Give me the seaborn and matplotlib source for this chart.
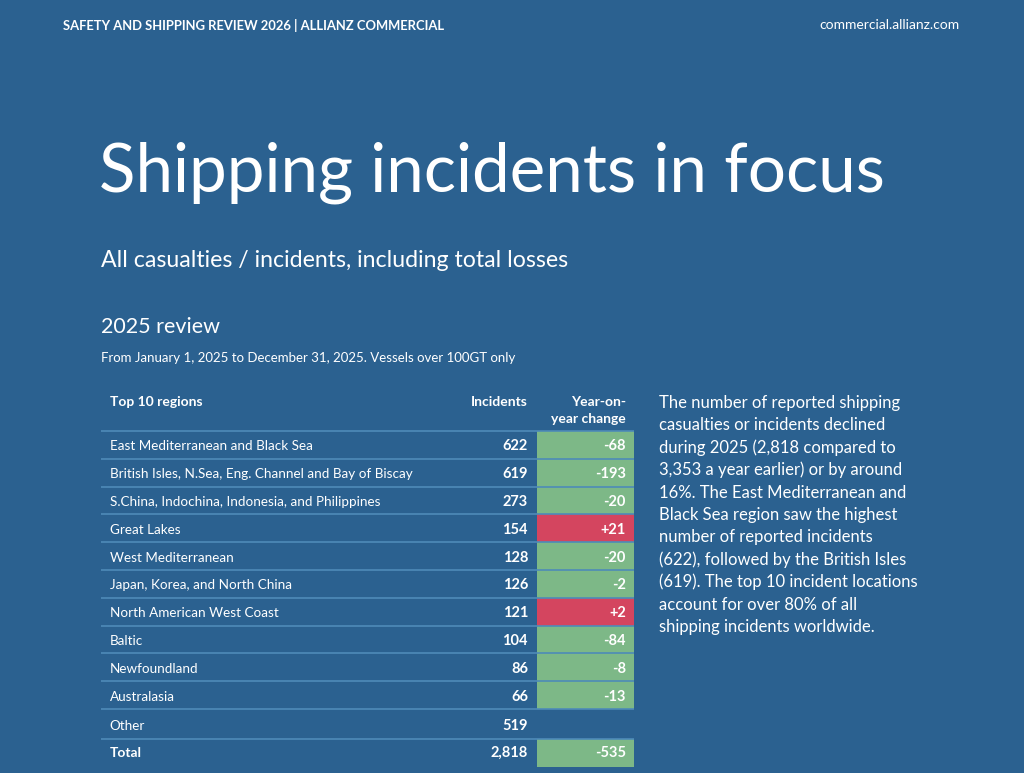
import seaborn as sns
import numpy as np
from matplotlib import pyplot as plt

# data
regions = ["East Mediterranean and Black Sea",
           "British Isles, N.Sea, Eng. Channel and Bay of Biscay",
           "S.China, Indochina, Indonesia, and Philippines",
           "Great Lakes", "West Mediterranean", "Japan, Korea, and North China",
           "North American West Coast", "Baltic", "Newfoundland", "Australasia"]
incidents = [622, 619, 273, 154, 128, 126, 121, 104, 86, 66]
yoy_change = [-68, -193, -20, 21, -20, -2, 2, -84, -8, -13]
other_incidents = 519
total_incidents = 2818
total_change = -535

paragraph = ["The number of reported shipping",
             "casualties or incidents declined",
             "during 2025 (2,818 compared to",
             "3,353 a year earlier) or by around",
             "16%. The East Mediterranean and",
             "Black Sea region saw the highest",
             "number of reported incidents",
             "(622), followed by the British Isles",
             "(619). The top 10 incident locations",
             "account for over 80% of all",
             "shipping incidents worldwide."]

BG = "#2B6190"
GREEN = "#7DB887"
RED = "#D4455F"
LINE = "#4E8BB8"

sns.set_style("white")
plt.rcParams["font.family"] = ["Lato", "DejaVu Sans"]

fig = plt.figure(figsize=(10.24, 7.73), dpi=100, facecolor=BG)
ax = fig.add_axes([0, 0, 1, 1], facecolor=BG)
ax.set_xlim(0, 1024)
ax.set_ylim(773, 0)
ax.axis("off")

# top strip
ax.text(63, 25, "SAFETY AND SHIPPING REVIEW 2026 | ALLIANZ COMMERCIAL", color="white",
        fontsize=9.4, fontweight="bold", va="center", ha="left")
ax.text(960, 25, "commercial.allianz.com", color="white", fontsize=10, va="center", ha="right")

ax.text(99, 192, "Shipping incidents in focus", color="white", fontsize=48.5, va="baseline")
ax.text(101, 267, "All casualties / incidents, including total losses", color="white",
        fontsize=16.7, va="baseline")
ax.text(101, 333, "2025 review", color="white", fontsize=15.5, va="baseline")
ax.text(101, 362, "From January 1, 2025 to December 31, 2025. Vessels over 100GT only",
        color="white", fontsize=9.5, va="baseline")

# table
x_left, x_inc, x_cell, x_right = 101, 528, 537, 634
top = 431
row_h = 27.8
n = len(regions)
centers = top + row_h * (np.arange(n) + 0.5)
txt_dy = 1.5
hdr = dict(color="white", fontsize=10, fontweight="bold", va="baseline")
num = dict(color="white", fontsize=10.5, fontweight="bold", va="center", ha="right")

ax.text(110, 406, "Top 10 regions", **hdr)
ax.text(x_inc, 406, "Incidents", ha="right", **hdr)
ax.text(626, 406, "Year-on-", ha="right", **hdr)
ax.text(626, 423, "year change", ha="right", **hdr)

colors = [GREEN if v < 0 else RED for v in yoy_change]
ax.barh(centers, width=x_right - x_cell, left=x_cell, height=row_h, color=colors, linewidth=0)

other_c = top + row_h * n + 16.5
total_c = other_c + 27.5
ax.barh([total_c], width=x_right - x_cell, left=x_cell, height=28,
        color=GREEN if total_change < 0 else RED, linewidth=0)

for c, name, inc, ch in zip(centers, regions, incidents, yoy_change):
    ax.text(110, c + txt_dy, name, color="white", fontsize=9.7, va="center")
    ax.text(x_inc, c + txt_dy, f"{inc:,}", **num)
    ax.text(626, c + txt_dy, f"{ch:+d}", **num)

ax.text(109, other_c, "Other", color="white", fontsize=9.7, va="center")
ax.text(x_inc, other_c, f"{other_incidents:,}", **num)
ax.text(110, total_c, "Total", color="white", fontsize=10, fontweight="bold", va="center")
ax.text(x_inc, total_c, f"{total_incidents:,}", **num)
ax.text(626, total_c, f"{total_change:+d}", **num)

lines_y = list(top + row_h * np.arange(n + 1)) + [other_c + 13.5]
ax.hlines(lines_y, x_left, x_right, color=LINE, linewidth=1.2)

# right paragraph
for i, line in enumerate(paragraph):
    ax.text(659, 408 + i * 22.4, line, color="white", fontsize=12, va="baseline")

fig.savefig("out.png", dpi=100, facecolor=BG)
